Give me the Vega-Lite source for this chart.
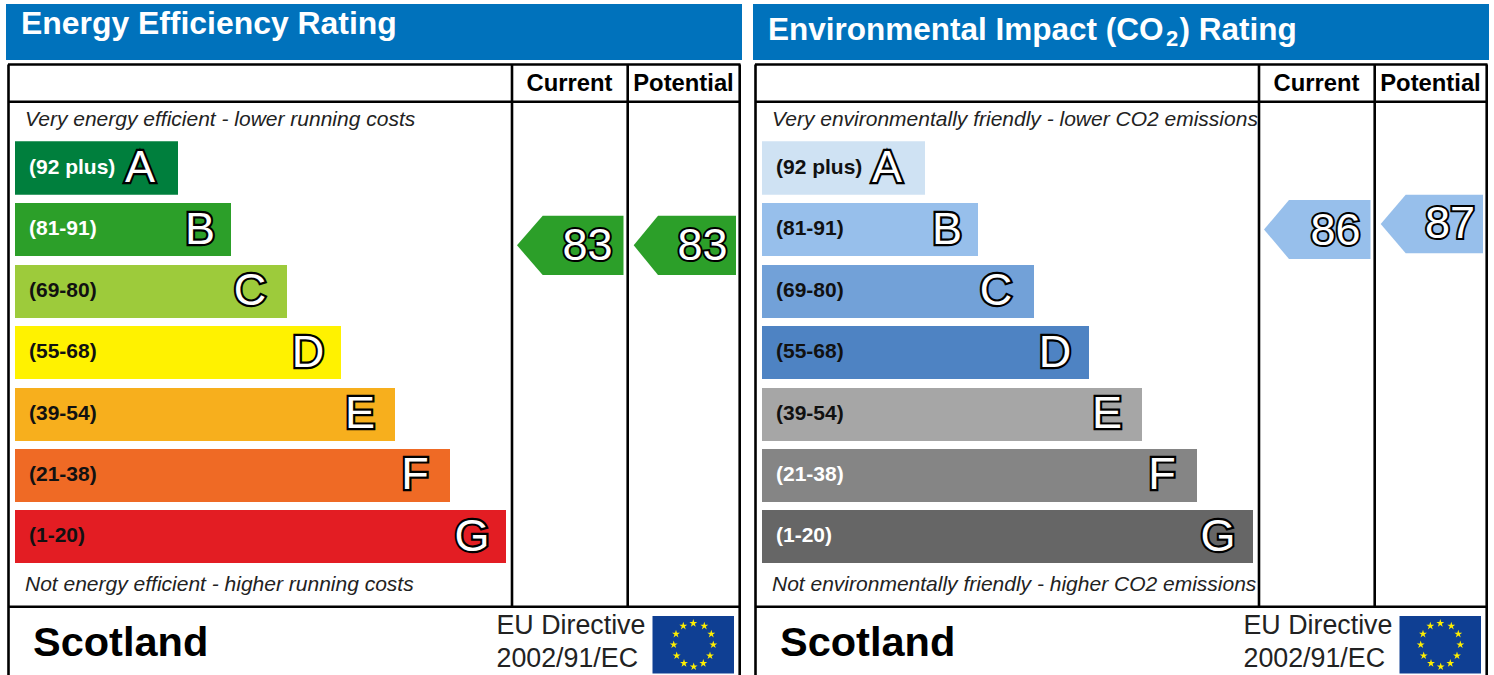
{"$schema":"https://vega.github.io/schema/vega-lite/v6.json","width":1494,"height":675,"padding":0,"autosize":"none","background":"#ffffff","view":{"stroke":null},
"datasets":{
"headers":[{"panel":"Energy","x":6,"x2":742,"y":4,"y2":60},{"panel":"Environmental","x":753,"x2":1489,"y":4,"y2":60}],
"flags":[{"panel":"Energy","x":652.5,"x2":734,"y":616,"y2":673.5},{"panel":"Environmental","x":1399.5,"x2":1481,"y":616,"y2":673.5}],
"frame":[
{"x":8.5,"x2":8.5,"y":64.5,"y2":675},{"x":8,"x2":740.5,"y":64.5,"y2":64.5},{"x":8,"x2":740.5,"y":101.7,"y2":101.7},{"x":8,"x2":740.5,"y":606.8,"y2":606.8},{"x":512,"x2":512,"y":64.5,"y2":606.8},{"x":627.7,"x2":627.7,"y":64.5,"y2":606.8},{"x":739.7,"x2":739.7,"y":64.5,"y2":675},
{"x":755.5,"x2":755.5,"y":64.5,"y2":675},{"x":755,"x2":1487.5,"y":64.5,"y2":64.5},{"x":755,"x2":1487.5,"y":101.7,"y2":101.7},{"x":755,"x2":1487.5,"y":606.8,"y2":606.8},{"x":1259,"x2":1259,"y":64.5,"y2":606.8},{"x":1374.7,"x2":1374.7,"y":64.5,"y2":606.8},{"x":1486.7,"x2":1486.7,"y":64.5,"y2":675}],
"bars":[
{"key":"Energy A","x":15,"x2":178,"y":141.3,"y2":194.7},{"key":"Energy B","x":15,"x2":231,"y":203,"y2":256},{"key":"Energy C","x":15,"x2":287,"y":265,"y2":318},{"key":"Energy D","x":15,"x2":341,"y":326,"y2":379},{"key":"Energy E","x":15,"x2":395,"y":388,"y2":441},{"key":"Energy F","x":15,"x2":450,"y":449,"y2":502},{"key":"Energy G","x":15,"x2":506,"y":510,"y2":563},
{"key":"Environmental A","x":762,"x2":925,"y":141.3,"y2":194.7},{"key":"Environmental B","x":762,"x2":978,"y":203,"y2":256},{"key":"Environmental C","x":762,"x2":1034,"y":265,"y2":318},{"key":"Environmental D","x":762,"x2":1089,"y":326,"y2":379},{"key":"Environmental E","x":762,"x2":1142,"y":388,"y2":441},{"key":"Environmental F","x":762,"x2":1197,"y":449,"y2":502},{"key":"Environmental G","x":762,"x2":1253,"y":510,"y2":563}],
"arrows":[
{"arrow":"Energy current","key":"Energy B","x":517,"y":245.3,"y2":245.3},{"arrow":"Energy current","key":"Energy B","x":542.7,"y":215.7,"y2":275},{"arrow":"Energy current","key":"Energy B","x":623.5,"y":215.7,"y2":275},
{"arrow":"Energy potential","key":"Energy B","x":633.7,"y":245.3,"y2":245.3},{"arrow":"Energy potential","key":"Energy B","x":658,"y":215.7,"y2":275},{"arrow":"Energy potential","key":"Energy B","x":736,"y":215.7,"y2":275},
{"arrow":"Environmental current","key":"Environmental B","x":1264,"y":229.5,"y2":229.5},{"arrow":"Environmental current","key":"Environmental B","x":1289,"y":200,"y2":259},{"arrow":"Environmental current","key":"Environmental B","x":1370.5,"y":200,"y2":259},
{"arrow":"Environmental potential","key":"Environmental B","x":1380.7,"y":224,"y2":224},{"arrow":"Environmental potential","key":"Environmental B","x":1405.7,"y":194.7,"y2":253.3},{"arrow":"Environmental potential","key":"Environmental B","x":1483,"y":194.7,"y2":253.3}],
"stars":[
{"panel":"Energy","x":693.3,"y":623.3},{"panel":"Energy","x":704.3,"y":626},{"panel":"Energy","x":711.3,"y":634},{"panel":"Energy","x":713.3,"y":644.7},{"panel":"Energy","x":710,"y":655.7},{"panel":"Energy","x":703.3,"y":663.3},{"panel":"Energy","x":693.7,"y":666.7},{"panel":"Energy","x":684,"y":663.3},{"panel":"Energy","x":676.7,"y":655.7},{"panel":"Energy","x":673.7,"y":644.7},{"panel":"Energy","x":676,"y":634},{"panel":"Energy","x":683.3,"y":626},
{"panel":"Environmental","x":1440.3,"y":623.3},{"panel":"Environmental","x":1451.3,"y":626},{"panel":"Environmental","x":1458.3,"y":634},{"panel":"Environmental","x":1460.3,"y":644.7},{"panel":"Environmental","x":1457,"y":655.7},{"panel":"Environmental","x":1450.3,"y":663.3},{"panel":"Environmental","x":1440.7,"y":666.7},{"panel":"Environmental","x":1431,"y":663.3},{"panel":"Environmental","x":1423.7,"y":655.7},{"panel":"Environmental","x":1420.7,"y":644.7},{"panel":"Environmental","x":1423,"y":634},{"panel":"Environmental","x":1430.3,"y":626}],
"texts":[
{"role":"title","label":"Energy Efficiency Rating","x":21,"y":34},
{"role":"title2","label":"Environmental Impact (CO","x":768,"y":40},
{"role":"title2","label":") Rating","x":1179.5,"y":40},
{"role":"sub","label":"2","x":1166,"y":46},
{"role":"head","label":"Current","x":569.5,"y":91},{"role":"head","label":"Potential","x":683.5,"y":91},{"role":"head","label":"Current","x":1316.5,"y":91},{"role":"head","label":"Potential","x":1430.5,"y":91},
{"role":"note","label":"Very energy efficient - lower running costs","x":25,"y":126},
{"role":"note","label":"Not energy efficient - higher running costs","x":25,"y":591},
{"role":"note","label":"Very environmentally friendly - lower CO2 emissions","x":772,"y":126},
{"role":"note","label":"Not environmentally friendly - higher CO2 emissions","x":772,"y":591},
{"role":"region","label":"Scotland","x":33,"y":656},{"role":"region","label":"Scotland","x":780,"y":656},
{"role":"directive","label":"EU Directive","x":496.5,"y":634},{"role":"directive","label":"2002/91/EC","x":496.5,"y":667},{"role":"directive","label":"EU Directive","x":1243.5,"y":634},{"role":"directive","label":"2002/91/EC","x":1243.5,"y":667},
{"role":"light","label":"(92 plus)","x":29,"y":168},{"role":"light","label":"(81-91)","x":29,"y":229},{"role":"dark","label":"(69-80)","x":29,"y":291},{"role":"dark","label":"(55-68)","x":29,"y":352},{"role":"dark","label":"(39-54)","x":29,"y":414},{"role":"dark","label":"(21-38)","x":29,"y":475},{"role":"dark","label":"(1-20)","x":29,"y":536},
{"role":"dark","label":"(92 plus)","x":776,"y":168},{"role":"dark","label":"(81-91)","x":776,"y":229},{"role":"dark","label":"(69-80)","x":776,"y":291},{"role":"dark","label":"(55-68)","x":776,"y":352},{"role":"dark","label":"(39-54)","x":776,"y":414},{"role":"light","label":"(21-38)","x":776,"y":475},{"role":"light","label":"(1-20)","x":776,"y":536},
{"role":"letter","label":"A","x":140,"y":167.5},{"role":"letter","label":"B","x":200,"y":229.5},{"role":"letter","label":"C","x":250,"y":291},{"role":"letter","label":"D","x":308,"y":353},{"role":"letter","label":"E","x":360,"y":414},{"role":"letter","label":"F","x":415,"y":475},{"role":"letter","label":"G","x":472,"y":537},
{"role":"letter","label":"A","x":887,"y":167.5},{"role":"letter","label":"B","x":947,"y":229.5},{"role":"letter","label":"C","x":996,"y":291},{"role":"letter","label":"D","x":1055,"y":353},{"role":"letter","label":"E","x":1107,"y":414},{"role":"letter","label":"F","x":1162,"y":475},{"role":"letter","label":"G","x":1218,"y":537},
{"role":"score","label":"83","x":587.5,"y":246},{"role":"score","label":"83","x":702.5,"y":246},{"role":"score","label":"86","x":1335.5,"y":231},{"role":"score","label":"87","x":1450,"y":224}]
},
"encoding":{
"x":{"field":"x","type":"quantitative","axis":null,"scale":{"domain":[0,1494],"nice":false,"zero":false}},
"y":{"field":"y","type":"quantitative","axis":null,"stack":null,"scale":{"domain":[675,0],"nice":false,"zero":false}}
},
"layer":[
{"data":{"name":"headers"},"mark":{"type":"rect","fill":"#0072BC"},"encoding":{"x2":{"field":"x2"},"y2":{"field":"y2"}}},
{"data":{"name":"bars"},"mark":{"type":"rect"},"encoding":{"x2":{"field":"x2"},"y2":{"field":"y2"},"fill":{"field":"key","type":"nominal","legend":null,"scale":{"domain":["Energy A","Energy B","Energy C","Energy D","Energy E","Energy F","Energy G","Environmental A","Environmental B","Environmental C","Environmental D","Environmental E","Environmental F","Environmental G"],"range":["#007F3D","#2C9F29","#9DCB3B","#FFF200","#F7AF1D","#EF6A25","#E31D23","#CFE2F3","#97BFEB","#72A1D8","#4E83C3","#A6A6A6","#858585","#666666"]}}}},
{"data":{"name":"arrows"},"mark":{"type":"area","orient":"vertical"},"encoding":{"y2":{"field":"y2"},"detail":{"field":"arrow"},"fill":{"field":"key","type":"nominal","legend":null}}},
{"data":{"name":"frame"},"mark":{"type":"rule","stroke":"#000000","strokeWidth":2.6},"encoding":{"x2":{"field":"x2"},"y2":{"field":"y2"}}},
{"data":{"name":"flags"},"mark":{"type":"rect","fill":"#0F3F93"},"encoding":{"x2":{"field":"x2"},"y2":{"field":"y2"}}},
{"data":{"name":"stars"},"mark":{"type":"point","filled":true,"opacity":1,"fill":"#FFEF00","stroke":null,"size":70,"shape":"M0,-1L0.225,-0.309L0.951,-0.309L0.363,0.118L0.588,0.809L0,0.382L-0.588,0.809L-0.363,0.118L-0.951,-0.309L-0.225,-0.309Z"}},
{"data":{"name":"texts"},"transform":[{"filter":"datum.role=='title'"}],"mark":{"type":"text","align":"left","baseline":"alphabetic","font":"Liberation Sans","fontWeight":"bold","fontSize":31.9,"fill":"#ffffff"},"encoding":{"text":{"field":"label"}}},
{"data":{"name":"texts"},"transform":[{"filter":"datum.role=='title2'"}],"mark":{"type":"text","align":"left","baseline":"alphabetic","font":"Liberation Sans","fontWeight":"bold","fontSize":31.5,"fill":"#ffffff"},"encoding":{"text":{"field":"label"}}},
{"data":{"name":"texts"},"transform":[{"filter":"datum.role=='sub'"}],"mark":{"type":"text","align":"left","baseline":"alphabetic","font":"Liberation Sans","fontWeight":"bold","fontSize":22,"fill":"#ffffff"},"encoding":{"text":{"field":"label"}}},
{"data":{"name":"texts"},"transform":[{"filter":"datum.role=='head'"}],"mark":{"type":"text","align":"center","baseline":"alphabetic","font":"Liberation Sans","fontWeight":"bold","fontSize":23.8,"fill":"#000000"},"encoding":{"text":{"field":"label"}}},
{"data":{"name":"texts"},"transform":[{"filter":"datum.role=='note'"}],"mark":{"type":"text","align":"left","baseline":"alphabetic","font":"Liberation Sans","fontStyle":"italic","fontSize":21,"fill":"#222222"},"encoding":{"text":{"field":"label"}}},
{"data":{"name":"texts"},"transform":[{"filter":"datum.role=='region'"}],"mark":{"type":"text","align":"left","baseline":"alphabetic","font":"Liberation Sans","fontWeight":"bold","fontSize":41.5,"fill":"#000000"},"encoding":{"text":{"field":"label"}}},
{"data":{"name":"texts"},"transform":[{"filter":"datum.role=='directive'"}],"mark":{"type":"text","align":"left","baseline":"alphabetic","font":"Liberation Sans","fontSize":26.8,"fill":"#222222"},"encoding":{"text":{"field":"label"}}},
{"data":{"name":"texts"},"transform":[{"filter":"datum.role=='light'"}],"mark":{"type":"text","align":"left","baseline":"middle","font":"Liberation Sans","fontWeight":"bold","fontSize":21,"fill":"#ffffff"},"encoding":{"text":{"field":"label"}}},
{"data":{"name":"texts"},"transform":[{"filter":"datum.role=='dark'"}],"mark":{"type":"text","align":"left","baseline":"middle","font":"Liberation Sans","fontWeight":"bold","fontSize":21,"fill":"#111111"},"encoding":{"text":{"field":"label"}}},
{"data":{"name":"texts"},"transform":[{"filter":"datum.role=='letter'"}],"mark":{"type":"text","align":"center","baseline":"middle","font":"Liberation Sans","fontSize":45,"fill":"#000000","stroke":"#000000","strokeWidth":4.4},"encoding":{"text":{"field":"label"}}},
{"data":{"name":"texts"},"transform":[{"filter":"datum.role=='letter'"}],"mark":{"type":"text","align":"center","baseline":"middle","font":"Liberation Sans","fontSize":45,"fill":"#ffffff"},"encoding":{"text":{"field":"label"}}},
{"data":{"name":"texts"},"transform":[{"filter":"datum.role=='score'"}],"mark":{"type":"text","align":"center","baseline":"middle","font":"Liberation Sans","fontSize":45,"fill":"#000000","stroke":"#000000","strokeWidth":4},"encoding":{"text":{"field":"label"}}},
{"data":{"name":"texts"},"transform":[{"filter":"datum.role=='score'"}],"mark":{"type":"text","align":"center","baseline":"middle","font":"Liberation Sans","fontSize":45,"fill":"#ffffff"},"encoding":{"text":{"field":"label"}}}
]}
